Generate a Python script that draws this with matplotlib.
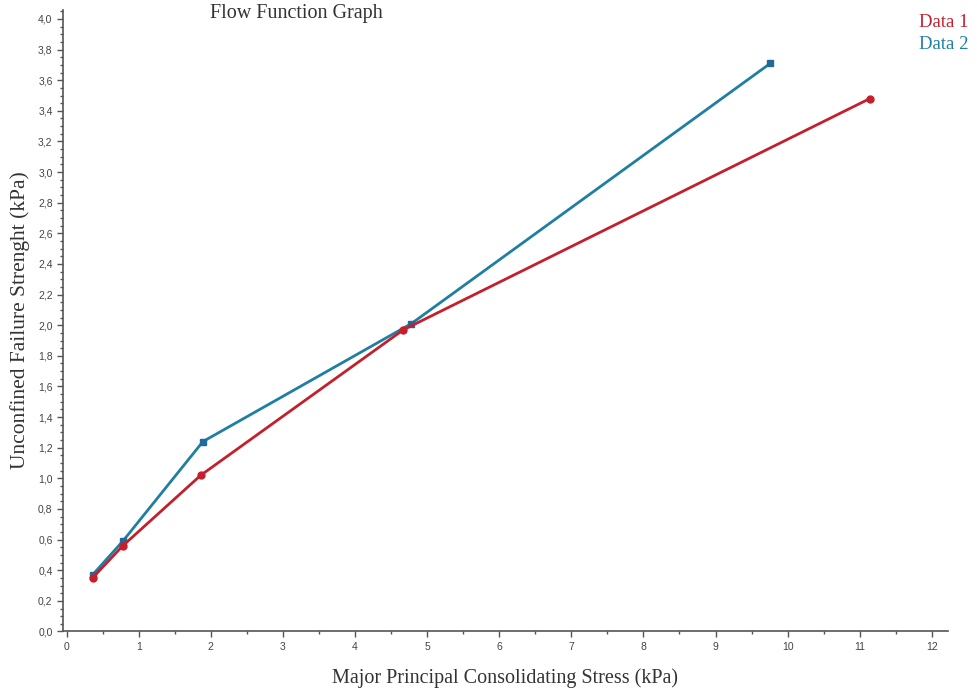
import matplotlib
matplotlib.use("Agg")
import matplotlib.pyplot as plt
from matplotlib.ticker import MultipleLocator, FuncFormatter

# values
stress_1 = [0.36, 0.78, 1.86, 4.67, 11.14]
strength_1 = [0.35, 0.56, 1.02, 1.97, 3.48]
stress_2 = [0.36, 0.78, 1.89, 4.78, 9.76]
strength_2 = [0.37, 0.59, 1.24, 2.01, 3.71]

red = "#C4202C"
teal = "#1F7FA3"

fig = plt.figure(figsize=(9.77, 6.97), dpi=100)
ax = fig.add_axes([0.0645, 0.094, 0.9055, 0.892])

ax.plot(stress_2, strength_2, color=teal, lw=2, marker="s", ms=5,
        mfc="#1F6A9A", mec="#1F6A9A", zorder=2)
ax.plot(stress_1, strength_1, color=red, lw=2, marker="o", ms=5,
        mfc=red, mec=red, zorder=3)

ax.set_xlim(-0.05, 12.22)
ax.set_ylim(0, 4.06)

ax.xaxis.set_major_locator(MultipleLocator(1))
ax.xaxis.set_minor_locator(MultipleLocator(0.5))
ax.yaxis.set_major_locator(MultipleLocator(0.2))
ax.yaxis.set_minor_locator(MultipleLocator(0.05))
ax.yaxis.set_major_formatter(FuncFormatter(lambda v, p: f"{v:.1f}".replace(".", ",")))

for s in ("top", "right"):
    ax.spines[s].set_visible(False)
for s in ("left", "bottom"):
    ax.spines[s].set_color("#555555")
    ax.spines[s].set_linewidth(1.2)

ax.tick_params(which="major", direction="out", length=4, width=1, colors="#555555",
               labelsize=7.5, labelcolor="#444444")
ax.tick_params(which="minor", direction="out", length=2, width=1, colors="#555555")
for lab in ax.get_xticklabels() + ax.get_yticklabels():
    lab.set_fontfamily("Liberation Sans")

serif = "Liberation Serif"
ax.set_xlabel("Major Principal Consolidating Stress (kPa)", fontfamily=serif,
              fontsize=14.5, color="#333333", labelpad=12)
ax.set_ylabel("Unconfined Failure Strenght (kPa)", fontfamily=serif,
              fontsize=15.5, color="#333333", labelpad=6)

fig.text(0.303, 0.981, "Flow Function Graph", fontfamily=serif, fontsize=14.5,
         color="#333333", ha="center", va="center")
fig.text(0.941, 0.968, "Data 1", fontfamily=serif, fontsize=13.5, color=red,
         ha="left", va="center")
fig.text(0.941, 0.936, "Data 2", fontfamily=serif, fontsize=13.5, color=teal,
         ha="left", va="center")

fig.savefig("out.png", dpi=100)
